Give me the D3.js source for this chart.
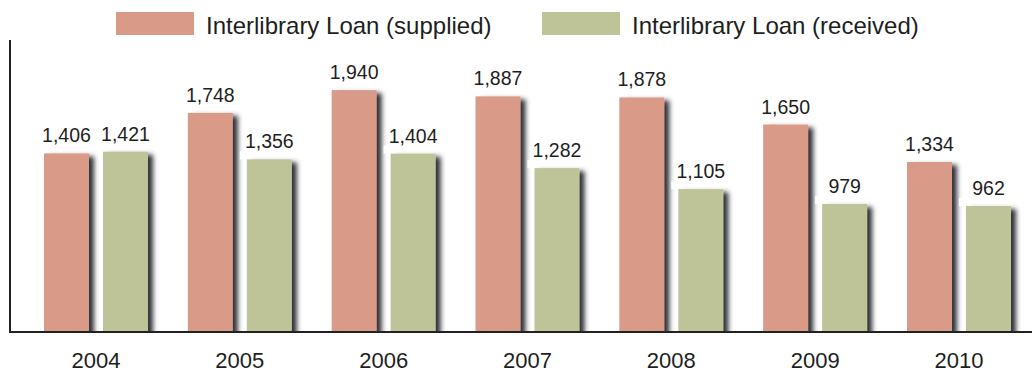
<!DOCTYPE html>
<html>
<head>
<meta charset="utf-8">
<script src="https://cdn.jsdelivr.net/npm/d3@7/dist/d3.min.js"></script>
<style>
  html, body { margin: 0; padding: 0; background: #fff; }
  svg { display: block; }
  text { font-family: "Liberation Sans", Arial, Helvetica, sans-serif; fill: #1e1e1e; }
</style>
</head>
<body>
<svg id="chart" width="1032" height="374"></svg>
<script>
// Interlibrary loan counts by fiscal year
const years = ["2004", "2005", "2006", "2007", "2008", "2009", "2010"];
const supplied = [1406, 1748, 1940, 1887, 1878, 1650, 1334];
const received = [1421, 1356, 1404, 1282, 1105, 979, 962];
const seriesKeys = ["supplied", "received"];
const seriesNames = ["Interlibrary Loan (supplied)", "Interlibrary Loan (received)"];
const seriesColors = ["#d99a88", "#bfc398"];

const rows = years.map((y, i) => ({ year: y, supplied: supplied[i], received: received[i] }));

const W = 1032, H = 374;
const baseY = 332, axisX = 10;

const svg = d3.select("#chart");

// Soft drop shadow cast to the lower right of each bar
const defs = svg.append("defs");
const f = defs.append("filter").attr("id", "shadow")
  .attr("x", "-20%").attr("y", "-10%").attr("width", "160%").attr("height", "130%");
f.append("feGaussianBlur").attr("in", "SourceAlpha").attr("stdDeviation", 2.8).attr("result", "b");
f.append("feOffset").attr("in", "b").attr("dx", 4.5).attr("dy", 3).attr("result", "o");
f.append("feFlood").attr("flood-color", "#2e3136").attr("flood-opacity", 1);
f.append("feComposite").attr("in2", "o").attr("operator", "in").attr("result", "s");
const m = f.append("feMerge");
m.append("feMergeNode").attr("in", "s");
m.append("feMergeNode").attr("in", "SourceGraphic");

defs.append("clipPath").attr("id", "plotClip")
  .append("rect").attr("x", 0).attr("y", 0).attr("width", W).attr("height", baseY);

// Scales
const x = d3.scalePoint().domain(years).range([96, 959]);
const xs = d3.scaleBand().domain(seriesKeys).range([-52, 52]).paddingInner(0.2373);
const y = d3.scaleLinear().domain([-100, 2000]).range([baseY, 83]);
const color = d3.scaleOrdinal().domain(seriesKeys).range(seriesColors);

const plot = svg.append("g").attr("clip-path", "url(#plotClip)");

function drawSeries(key) {
  plot.append("g").selectAll("rect")
    .data(rows).join("rect")
    .attr("x", d => x(d.year) + xs(key))
    .attr("y", d => y(d[key]))
    .attr("width", xs.bandwidth())
    .attr("height", d => y.range()[0] - y(d[key]) + 4)
    .attr("fill", color(key))
    .attr("filter", "url(#shadow)");
}

drawSeries("supplied");

// White label backing for the received values (sits over the neighbouring shadow)
plot.append("g").selectAll("rect")
  .data(rows).join("rect")
  .attr("x", d => x(d.year) + xs("received") - 7)
  .attr("y", d => y(d.received) - 8)
  .attr("width", xs.bandwidth() + 7)
  .attr("height", 8)
  .attr("fill", "#fff");

drawSeries("received");

// Value labels
seriesKeys.forEach(key => {
  svg.append("g").selectAll("text")
    .data(rows).join("text")
    .attr("x", d => x(d.year) + xs(key) + xs.bandwidth() / 2)
    .attr("y", d => y(d[key]) - 11)
    .attr("text-anchor", "middle")
    .style("font-size", "19.5px")
    .text(d => d3.format(",")(d[key]));
});

// Axes lines
svg.append("line")
  .attr("x1", axisX).attr("x2", axisX).attr("y1", 40).attr("y2", baseY + 1)
  .attr("stroke", "#222").attr("stroke-width", 2);
svg.append("line")
  .attr("x1", axisX - 1).attr("x2", W).attr("y1", baseY).attr("y2", baseY)
  .attr("stroke", "#222").attr("stroke-width", 2);

// Year labels
svg.append("g").selectAll("text")
  .data(years).join("text")
  .attr("x", d => x(d))
  .attr("y", 368)
  .attr("text-anchor", "middle")
  .style("font-size", "22px")
  .text(d => d);

// Legend
const legendX = [116, 542];
const lg = svg.append("g").selectAll("g")
  .data(seriesKeys).join("g")
  .attr("transform", (d, i) => `translate(${legendX[i]},12)`);
lg.append("rect").attr("width", 78).attr("height", 23).attr("fill", d => color(d));
lg.append("text").attr("x", 90).attr("y", 22)
  .style("font-size", "24px")
  .text((d, i) => seriesNames[i]);
</script>
</body>
</html>
